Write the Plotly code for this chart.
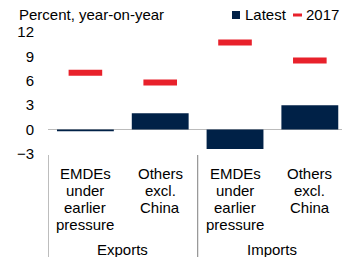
import plotly.graph_objects as go

groups = ["Exports", "Imports"]
categories = ["EMDEs<br>under<br>earlier<br>pressure", "Others<br>excl.<br>China",
              "EMDEs<br>under<br>earlier<br>pressure", "Others<br>excl.<br>China"]
latest = [-0.2, 2.0, -2.4, 3.0]
y2017 = [7.0, 5.8, 10.7, 8.5]
y_ticks = [-3, 0, 3, 6, 9, 12]

FONT = "Liberation Sans, Arial, sans-serif"
NAVY = "#002147"
RED = "#E8212B"
FS = 15

W, H = 342, 257
# plotting-area geometry in window pixels
PL, PR, PT, PB = 48, 342, 32, 154
ML, MT, MR, MB = PL, PT, W - PR, H - PB
PW, PH = PR - PL, PB - PT

xpos = list(range(len(categories)))

fig = go.Figure()
fig.add_trace(go.Bar(x=xpos, y=latest, name="Latest", showlegend=False,
                     marker=dict(color=NAVY, line=dict(width=0)), width=0.76))
fig.add_trace(go.Scatter(x=xpos, y=y2017, name="2017", mode="markers", showlegend=False,
                         marker=dict(symbol="line-ew", size=24,
                                     line=dict(color=RED, width=6))))


def px_x(p):
    return (p - PL) / PW


def px_y(p):
    return (PB - p) / PH


annotations = [dict(text="Percent, year-on-year", xref="paper", yref="paper",
                    x=px_x(17), y=px_y(15), xanchor="left", yanchor="middle",
                    showarrow=False, font=dict(size=FS))]

# category labels, one line per annotation for tight line spacing
line_gap = 17
first_line = 173
for i, lab in enumerate(categories):
    for j, ln in enumerate(lab.split("<br>")):
        annotations.append(dict(text=ln, xref="x", yref="paper", x=xpos[i],
                                y=px_y(first_line + j * line_gap),
                                xanchor="center", yanchor="middle", showarrow=False,
                                font=dict(size=FS)))
# group labels
n_per = len(categories) // len(groups)
for g, name in enumerate(groups):
    cx = (xpos[g * n_per] + xpos[g * n_per + n_per - 1]) / 2
    annotations.append(dict(text=name, xref="x", yref="paper", x=cx, y=px_y(249),
                            xanchor="center", yanchor="middle", showarrow=False,
                            font=dict(size=FS)))

shapes = []
# group dividers
for g in range(len(groups)):
    xb = xpos[g * n_per] - 0.5
    shapes.append(dict(type="line", xref="x", yref="paper", x0=xb, x1=xb,
                       y0=px_y(155), y1=px_y(H + 2),
                       line=dict(color="#999999", width=1.3)))

# legend
ly = 15
shapes.append(dict(type="rect", xref="paper", yref="paper",
                   x0=px_x(232), x1=px_x(240), y0=px_y(ly + 4), y1=px_y(ly - 4),
                   fillcolor=NAVY, line=dict(width=0)))
shapes.append(dict(type="line", xref="paper", yref="paper",
                   x0=px_x(293), x1=px_x(302), y0=px_y(ly), y1=px_y(ly),
                   line=dict(color=RED, width=3)))
annotations.append(dict(text="Latest", xref="paper", yref="paper", x=px_x(243), y=px_y(ly),
                        xanchor="left", yanchor="middle", showarrow=False, font=dict(size=FS)))
annotations.append(dict(text="2017", xref="paper", yref="paper", x=px_x(304), y=px_y(ly),
                        xanchor="left", yanchor="middle", showarrow=False, font=dict(size=FS)))

fig.update_layout(
    width=W, height=H,
    margin=dict(l=ML, r=MR, t=MT, b=MB, autoexpand=False),
    paper_bgcolor="white", plot_bgcolor="white",
    font=dict(family=FONT, size=FS, color="black"),
    showlegend=False,
    xaxis=dict(range=[-0.5, 3.43], showgrid=False, showline=False, ticks="",
               zeroline=False, showticklabels=False, automargin=False, fixedrange=True),
    yaxis=dict(range=[-3, 12], tickvals=y_ticks, showgrid=False, showline=False,
               zeroline=True, zerolinecolor="#BBBBBB", zerolinewidth=1.3,
               ticks="", tickfont=dict(size=FS), ticklabelstandoff=13, automargin=False,
               fixedrange=True),
    annotations=annotations,
    shapes=shapes,
)

# remove the browser's default 8px body margin so the figure fills the window
fig.write_html("out.html",
               config={"displayModeBar": False, "staticPlot": True},
               post_script="document.body.style.margin='0px';"
                           "document.body.style.overflow='hidden';")
